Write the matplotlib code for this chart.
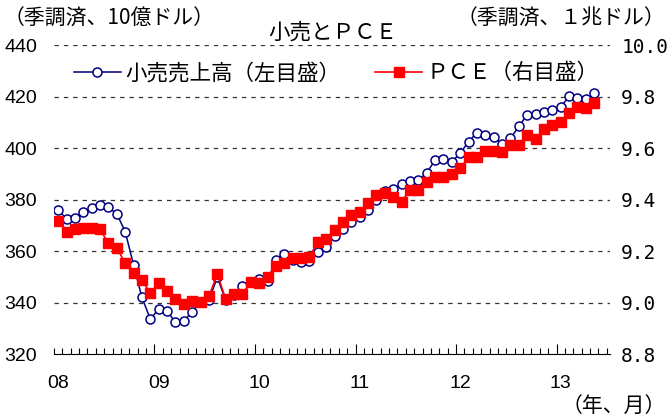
import matplotlib
matplotlib.use("Agg")
import matplotlib.pyplot as plt
import numpy as np

# monthly data, Jan 2008 - May 2013
retail_sales = [376.0, 372.5, 373.0, 375.3, 376.7, 378.0, 377.0, 374.5, 367.6, 354.7, 342.0, 333.6,
                337.5, 336.8, 332.3, 332.8, 336.5, 340.3, 341.0, 349.8, 341.0, 343.0, 346.5, 348.0,
                349.0, 348.2, 356.7, 359.0, 356.5, 355.8, 356.2, 359.8, 361.7, 365.7, 368.7, 371.3,
                373.2, 376.0, 379.9, 383.5, 384.0, 386.0, 387.2, 387.5, 390.5, 395.3, 396.0, 394.8,
                398.0, 402.6, 406.0, 405.2, 404.5, 401.5, 403.8, 408.5, 413.0, 413.2, 414.0, 415.0,
                416.0, 420.2, 419.4, 419.0, 421.6]
pce = [9.318, 9.275, 9.285, 9.291, 9.291, 9.285, 9.230, 9.211, 9.155, 9.114, 9.088, 9.036,
       9.075, 9.045, 9.014, 8.994, 9.007, 9.003, 9.025, 9.110, 9.014, 9.032, 9.032, 9.081,
       9.077, 9.100, 9.144, 9.155, 9.172, 9.172, 9.178, 9.237, 9.246, 9.282, 9.314, 9.340,
       9.353, 9.386, 9.418, 9.426, 9.411, 9.392, 9.438, 9.439, 9.468, 9.489, 9.490, 9.498,
       9.522, 9.565, 9.567, 9.590, 9.590, 9.584, 9.612, 9.612, 9.651, 9.635, 9.673, 9.690,
       9.703, 9.736, 9.761, 9.755, 9.775]
year_labels = ["08", "09", "10", "11", "12", "13"]
left_ticks = [320, 340, 360, 380, 400, 420, 440]
right_ticks = [8.8, 9.0, 9.2, 9.4, 9.6, 9.8, 10.0]

jp = "Noto Sans CJK JP"
num = "Liberation Sans"

months = np.arange(len(retail_sales))

fig = plt.figure(figsize=(6.69, 4.18), dpi=100)
ax = fig.add_axes([0.0807, 0.153, 0.8313, 0.7386])
ax2 = ax.twinx()

for v in left_ticks[1:]:
    ax.axhline(v, color="#333333", lw=0.9, ls=(0, (3.5, 4)), zorder=0)

l1, = ax.plot(months, retail_sales, color="#000080", lw=1.1, marker="o", ms=6.5,
              mfc="white", mec="#000080", mew=1.1, label="小売売上高（左目盛）")
l2, = ax2.plot(months, pce, color="#ff0000", lw=1.2, marker="s", ms=7,
               mfc="#ff0000", mec="#ff0000", label="ＰＣＥ（右目盛）")

ax.set_xlim(-0.5, 65.9)
ax.set_ylim(320, 440)
ax2.set_ylim(8.8, 10.0)

for a in (ax, ax2):
    for s in ("top", "left", "right"):
        a.spines[s].set_visible(False)
ax2.spines["bottom"].set_visible(False)
ax.spines["bottom"].set_linewidth(0.8)

ax.set_yticks(left_ticks)
ax.set_yticklabels([str(v) for v in left_ticks], fontfamily=num, fontsize=14)
ax.tick_params(axis="y", length=0, pad=12)
ax2.set_yticks(right_ticks)
ax2.set_yticklabels(["%.1f" % v for v in right_ticks], fontfamily="DejaVu Sans Mono", fontsize=14)
ax2.tick_params(axis="y", length=0, pad=8)

# ticks between months, longer at year boundaries
ax.set_xticks(np.arange(11.5, len(months), 12))
ax.set_xticks(np.arange(-0.5, 66, 1), minor=True)
ax.set_xticklabels([])
ax.tick_params(axis="x", which="major", direction="in", length=7, width=0.8)
ax.tick_params(axis="x", which="minor", direction="in", length=4, width=0.8)

for k, lab in enumerate(year_labels):
    ax.text(k * 12, -0.095, lab, transform=ax.get_xaxis_transform(), ha="center", va="center",
            fontfamily=num, fontsize=14)

ax2.legend(handles=[l1, l2], loc="center left", bbox_to_anchor=(0.02, 0.91), ncol=2,
           frameon=False, prop={"family": jp, "size": 15.5}, handlelength=2.2,
           handletextpad=0.2, columnspacing=1.6, borderaxespad=0)

fig.text(0.006, 0.955, "（季調済、10億ドル）", fontfamily=jp, fontsize=15, ha="left", va="center")
fig.text(0.995, 0.955, "（季調済、１兆ドル）", fontfamily=jp, fontsize=15, ha="right", va="center")
fig.text(0.498, 0.922, "小売とＰＣＥ", fontfamily=jp, fontsize=15.5, ha="center", va="center")
fig.text(0.995, 0.028, "（年、月）", fontfamily=jp, fontsize=15, ha="right", va="center")

fig.savefig("out.png", dpi=100)
